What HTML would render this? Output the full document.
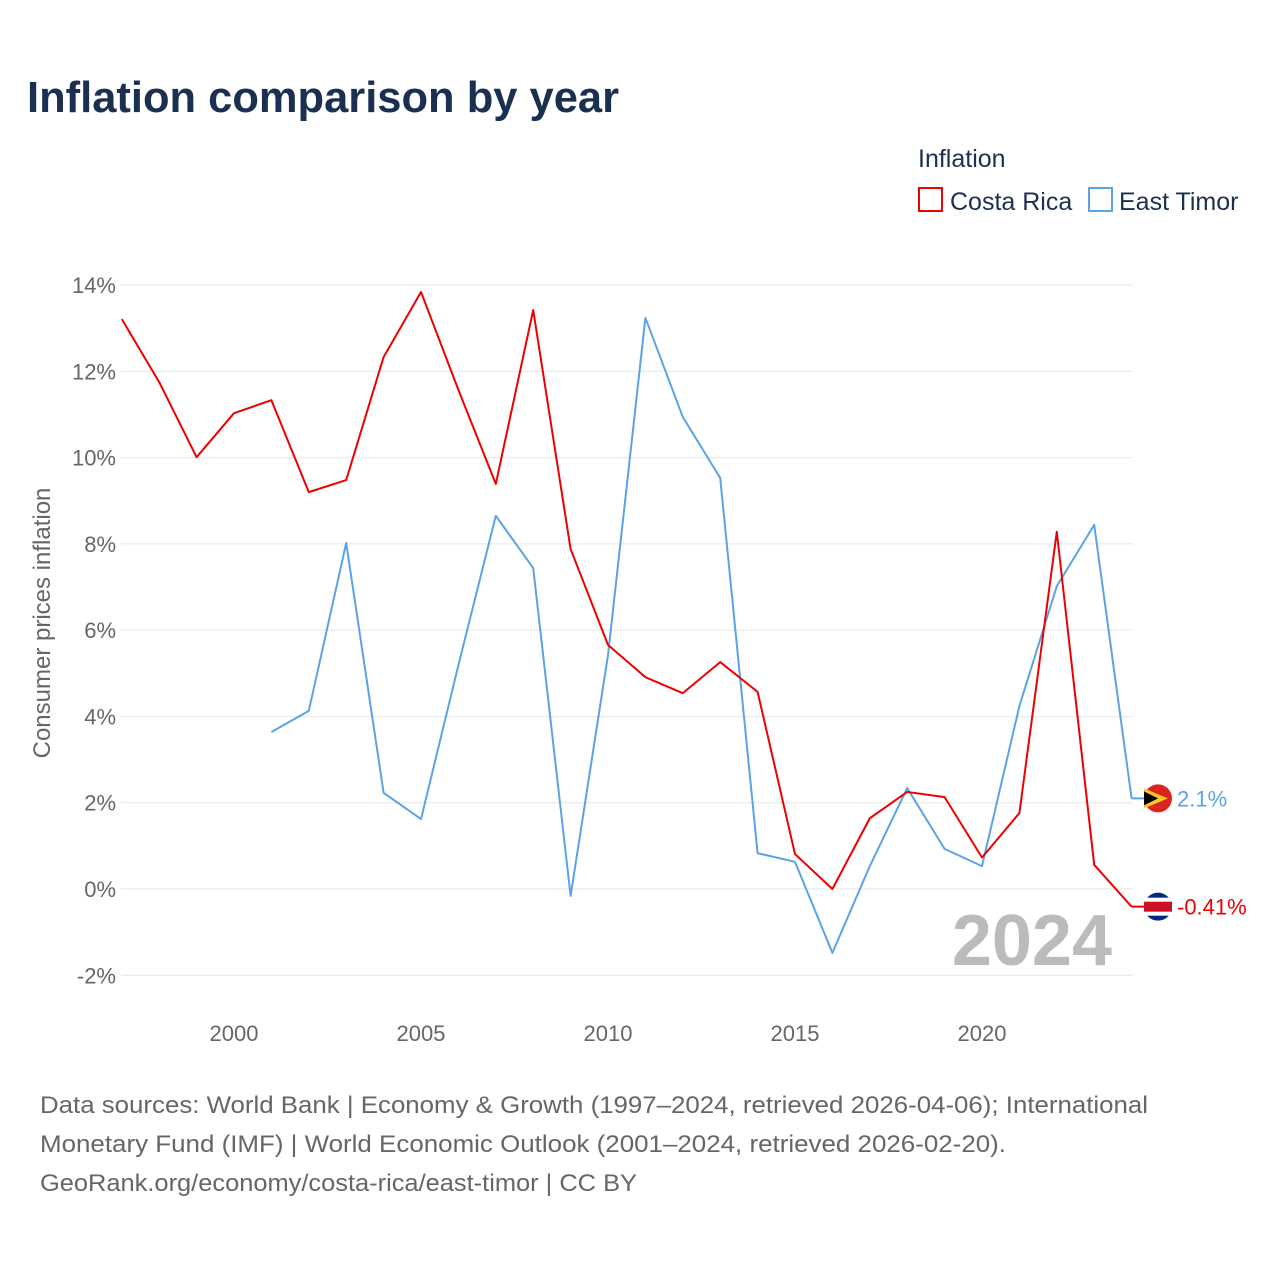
<!DOCTYPE html>
<html><head><meta charset="utf-8">
<style>
body{margin:0;background:#fff;font-family:"Liberation Sans",sans-serif;}
svg text{font-family:"Liberation Sans",sans-serif;}
</style></head>
<body>
<svg id="chart" width="1280" height="1280" xmlns="http://www.w3.org/2000/svg">
<rect width="1280" height="1280" fill="#fff"/>
<text x="27" y="112" font-size="44" font-weight="bold" fill="#1b3050" textLength="592" lengthAdjust="spacingAndGlyphs">Inflation comparison by year</text>
<text x="918" y="167" font-size="25" fill="#1b3050">Inflation</text>
<g>
<rect x="919" y="188" width="23" height="23" fill="none" stroke="#ee0000" stroke-width="2"/>
<text x="950" y="210" font-size="25" fill="#1b3050">Costa Rica</text></g>
<g>
<rect x="1089" y="188" width="23" height="23" fill="none" stroke="#5ba3e6" stroke-width="2"/>
<text x="1119" y="210" font-size="25" fill="#1b3050">East Timor</text></g>
<g id="grid"></g><g id="yticks"></g><g id="xticks"></g>
<text transform="translate(50,623) rotate(-90)" text-anchor="middle" font-size="24" fill="#666">Consumer prices inflation</text>
<text x="1112" y="965" text-anchor="end" font-size="72" font-weight="bold" fill="#bbb">2024</text>
<g id="series"></g>
<g font-size="24" fill="#666">
<text x="40" y="1113" textLength="1108" lengthAdjust="spacingAndGlyphs">Data sources: World Bank | Economy &amp; Growth (1997–2024, retrieved 2026-04-06); International</text>
<text x="40" y="1152" textLength="966" lengthAdjust="spacingAndGlyphs">Monetary Fund (IMF) | World Economic Outlook (2001–2024, retrieved 2026-02-20).</text>
<text x="40" y="1191" textLength="597" lengthAdjust="spacingAndGlyphs">GeoRank.org/economy/costa-rica/east-timor | CC BY</text></g>
</svg>
<script>
const crYears=[1997,1998,1999,2000,2001,2002,2003,2004,2005,2006,2007,2008,2009,2010,2011,2012,2013,2014,2015,2016,2017,2018,2019,2020,2021,2022,2023,2024];
const crValues=[13.21,11.75,10.01,11.03,11.33,9.20,9.48,12.33,13.84,11.57,9.39,13.42,7.88,5.66,4.91,4.54,5.26,4.57,0.81,0.0,1.64,2.25,2.13,0.73,1.76,8.28,0.56,-0.41];
const etYears=[2001,2002,2003,2004,2005,2006,2007,2008,2009,2010,2011,2012,2013,2014,2015,2016,2017,2018,2019,2020,2021,2022,2023,2024];
const etValues=[3.64,4.13,8.02,2.23,1.62,5.19,8.65,7.44,-0.16,5.42,13.24,10.94,9.53,0.83,0.63,-1.48,0.53,2.34,0.93,0.53,4.24,7.02,8.44,2.1];
const yTicks=[-2,0,2,4,6,8,10,12,14];
const xTicks=[2000,2005,2010,2015,2020];
const NS="http://www.w3.org/2000/svg";
const xS=y=>121.8+(y-1997)*37.4;
const yS=v=>889-v*43.14;
function mk(t,a,p){const e=document.createElementNS(NS,t);for(const k in a)e.setAttribute(k,a[k]);p.appendChild(e);return e;}
const grid=document.getElementById('grid'),yt=document.getElementById('yticks'),xt=document.getElementById('xticks'),ser=document.getElementById('series');
yTicks.forEach(v=>{
 const l=mk('line',{x1:121,x2:1133,y1:yS(v),y2:yS(v),stroke:'#e6e6e6','stroke-width':1},grid);
 
 
 const t=mk('text',{x:116,y:yS(v)+8,'text-anchor':'end','font-size':22,fill:'#666'},yt);
 t.textContent=v+'%';
 
 
});
xTicks.forEach(y=>{
 const t=mk('text',{x:xS(y),y:1041,'text-anchor':'middle','font-size':22,fill:'#666'},xt);
 t.textContent=y;
 
 
});
function line(ys,vs,col,name){
 const p=mk('polyline',{points:ys.map((y,i)=>xS(y)+','+yS(vs[i])).join(' '),fill:'none',stroke:col,'stroke-width':2,'stroke-linejoin':'round'},ser);
 
 
}
line(etYears,etValues,'#5ba3e6','east-timor-line');
line(crYears,crValues,'#ee0000','costa-rica-line');
const etEnd=etValues[etValues.length-1],crEnd=crValues[crValues.length-1];
const gE=mk('g',{},ser);


mk('line',{x1:xS(2024),x2:1158,y1:yS(etEnd),y2:yS(etEnd),stroke:'#5ba3e6','stroke-width':2},gE);
mk('circle',{cx:1158,cy:yS(etEnd),r:14,fill:'#dc241f'},gE);
mk('polygon',{points:`1144,${yS(etEnd)-10} 1168,${yS(etEnd)} 1144,${yS(etEnd)+10}`,fill:'#ffc726'},gE);
mk('polygon',{points:`1144,${yS(etEnd)-7} 1158,${yS(etEnd)} 1144,${yS(etEnd)+7}`,fill:'#000'},gE);
const tE=mk('text',{x:1177,y:yS(etEnd)+8,'font-size':22,fill:'#5ba3e6'},gE);tE.textContent='2.1%';
const gC=mk('g',{},ser);


mk('line',{x1:xS(2024),x2:1158,y1:yS(crEnd),y2:yS(crEnd),stroke:'#ee0000','stroke-width':2},gC);
mk('circle',{cx:1158,cy:yS(crEnd),r:14,fill:'#002b7f'},gC);
mk('rect',{x:1144,y:yS(crEnd)-9,width:28,height:18,fill:'#fff'},gC);
mk('rect',{x:1144,y:yS(crEnd)-5,width:28,height:10,fill:'#ce1126'},gC);
const tC=mk('text',{x:1177,y:yS(crEnd)+8,'font-size':22,fill:'#ee0000'},gC);tC.textContent='-0.41%';
</script>
</body></html>
